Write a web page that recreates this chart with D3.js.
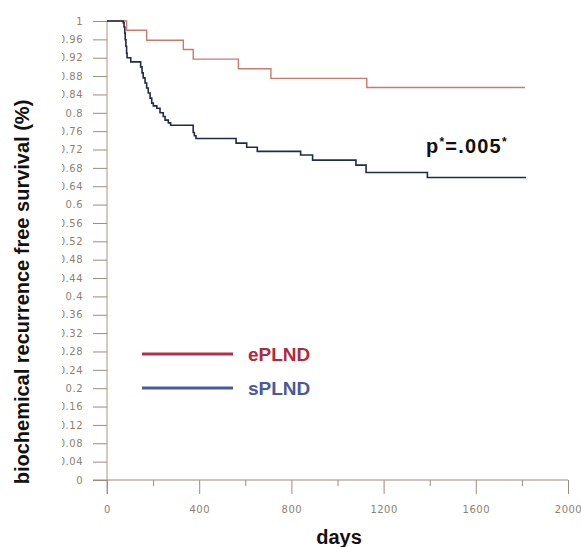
<!DOCTYPE html>
<html>
<head>
<meta charset="utf-8">
<script src="https://cdn.jsdelivr.net/npm/d3@7"></script>
<style>
  body { margin: 0; background: #fff; }
  text { font-family: "Liberation Sans", Arial, sans-serif; }
  .tick text { font-family: "DejaVu Sans", sans-serif; font-size: 10px; letter-spacing: 0.5px; fill: #8c8272; }
</style>
</head>
<body>
<svg id="chart" width="581" height="547"></svg>
<script>
// survival estimates (days, proportion)
var eplndDays = [0, 85, 172, 331, 374, 570, 711, 1127, 1813];
var eplndSurv = [1, 0.980, 0.958, 0.938, 0.917, 0.896, 0.875, 0.855, 0.855];

var splndDays = [0, 71, 74, 77, 79, 82, 85, 87, 103, 146, 152, 157, 165, 172, 179, 187, 194, 201,
    216, 230, 244, 252, 266, 276, 374, 379, 386, 560, 606, 652, 840, 892, 1080, 1124, 1390, 1818];
var splndSurv = [1, 0.996, 0.987, 0.974, 0.959, 0.945, 0.930, 0.920, 0.911, 0.900, 0.887, 0.876,
    0.865, 0.854, 0.843, 0.832, 0.821, 0.815, 0.810, 0.800, 0.792, 0.784, 0.778, 0.773, 0.757,
    0.750, 0.744, 0.734, 0.725, 0.716, 0.708, 0.697, 0.686, 0.670, 0.659, 0.659];

var xMajor = [0, 400, 800, 1200, 1600, 2000];
var xMinor = [200, 600, 1000, 1400, 1800];
var yTicks = d3.range(0, 26).map(function(i) { return +(i * 0.04).toFixed(2); });

var groups = ["ePLND", "sPLND"];

var svg = d3.select("#chart"),
    axisCol = "#9c8c7a";

var x = d3.scaleLinear().domain([0, 2000]).range([107, 568]),
    y = d3.scaleLinear().domain([0, 1]).range([480, 21]);

// y axis (labels cut at the left like the scanned original)
svg.append("clipPath").attr("id", "yclip")
  .append("rect").attr("x", -45).attr("y", 0).attr("width", 60).attr("height", 547);

var gy = svg.append("g")
    .attr("transform", "translate(107,0)")
    .attr("clip-path", "url(#yclip)")
    .call(d3.axisLeft(y).tickValues(yTicks).tickSize(14).tickPadding(10)
      .tickFormat(function(d) { return String(d); }));
gy.select(".domain").remove();
gy.selectAll(".tick line").attr("stroke", axisCol);

// x axis, major and minor ticks
var gx = svg.append("g")
    .attr("transform", "translate(0,480)")
    .call(d3.axisBottom(x).tickValues(xMajor).tickSize(14).tickPadding(12)
      .tickFormat(d3.format("d")));
gx.select(".domain").remove();
gx.selectAll(".tick line").attr("stroke", axisCol);

var gm = svg.append("g")
    .attr("transform", "translate(0,480)")
    .call(d3.axisBottom(x).tickValues(xMinor).tickSize(6).tickFormat(""));
gm.select(".domain").remove();
gm.selectAll(".tick line").attr("stroke", axisCol);

svg.append("line")
    .attr("x1", 107).attr("x2", 107).attr("y1", y(1)).attr("y2", 494)
    .attr("stroke", "#b09482");
svg.append("line")
    .attr("x1", 93).attr("x2", x(2000)).attr("y1", 480).attr("y2", 480)
    .attr("stroke", axisCol);

// curves
var line = d3.line()
    .x(function(d) { return x(d[0]); })
    .y(function(d) { return y(d[1]); })
    .curve(d3.curveStepAfter);

svg.append("path")
    .datum(eplndDays.map(function(d, i) { return [d, eplndSurv[i]]; }))
    .attr("d", line)
    .attr("fill", "none")
    .attr("stroke", "#c87a6c")
    .attr("stroke-width", 1.4);

svg.append("path")
    .datum(splndDays.map(function(d, i) { return [d, splndSurv[i]]; }))
    .attr("d", line)
    .attr("fill", "none")
    .attr("stroke", "#1c2c4a")
    .attr("stroke-width", 1.6);

// legend
var legCols = ["#b4304a", "#4a58a0"];
var leg = svg.append("g");
groups.forEach(function(g, i) {
    var ly = 354 + i * 34;
    leg.append("line")
      .attr("x1", 142).attr("x2", 233).attr("y1", ly).attr("y2", ly)
      .attr("stroke", legCols[i]).attr("stroke-width", 3);
    leg.append("text")
      .attr("x", 248).attr("y", ly + 7)
      .attr("font-size", 19).attr("font-weight", "bold")
      .attr("fill", i == 0 ? "#b02a3c" : "#4a58a0")
      .text(g);
});

// p value
var p = svg.append("text")
    .attr("x", 426).attr("y", 153)
    .attr("font-size", 20).attr("font-weight", "bold")
    .attr("letter-spacing", 1.2)
    .attr("fill", "#111");
p.append("tspan").text("p");
p.append("tspan").attr("font-size", 12).attr("dy", -7).text("*");
p.append("tspan").attr("dy", 7).text("=.005");
p.append("tspan").attr("font-size", 12).attr("dy", -7).text("*");

// axis titles
svg.append("text")
    .attr("x", 339).attr("y", 544)
    .attr("text-anchor", "middle")
    .attr("font-size", 20).attr("font-weight", "bold")
    .attr("fill", "#111")
    .text("days");

svg.append("text")
    .attr("transform", "translate(29,292) rotate(-90)")
    .attr("text-anchor", "middle")
    .attr("font-size", 20).attr("font-weight", "bold")
    .attr("fill", "#111")
    .text("biochemical recurrence free survival (%)");
</script>
</body>
</html>
